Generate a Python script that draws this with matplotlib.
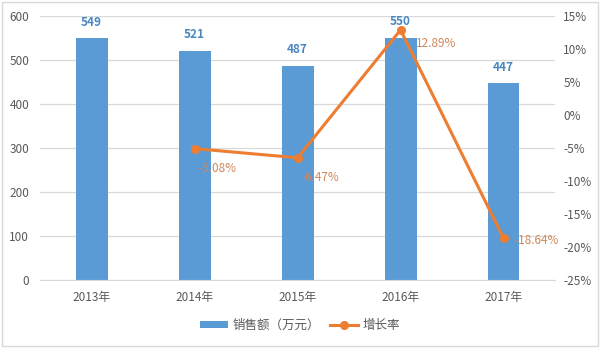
import numpy as np
import matplotlib.pyplot as plt
from matplotlib.ticker import FuncFormatter, MultipleLocator

plt.rcParams['font.family'] = ['Noto Sans CJK SC', 'DejaVu Sans']

years = ['2013年', '2014年', '2015年', '2016年', '2017年']
sales = [549, 521, 487, 550, 447]
growth_years = ['2014年', '2015年', '2016年', '2017年']
growth = [-5.08, -6.47, 12.89, -18.64]

bar_color = '#5B9BD5'
line_color = '#ED7D31'
tick_color = '#595959'

fig = plt.figure(figsize=(6, 3.48), dpi=100)
ax = fig.add_axes([0.067, 0.195, 0.858, 0.759])
ax2 = ax.twinx()

x = np.arange(len(years))
bars = ax.bar(x, sales, width=0.31, color=bar_color, zorder=2, label='销售额（万元）')
for xi, v in zip(x, sales):
    ax.annotate(str(v), (xi, v), xytext=(0, 7), textcoords='offset points',
                ha='center', va='bottom', fontsize=8.5, fontweight='bold',
                color='#4A86C0')

ax.set_xlim(-0.5, len(years) - 0.5)
ax.set_ylim(0, 600)
ax.yaxis.set_major_locator(MultipleLocator(100))
ax.grid(axis='y', color='#D9D9D9', linewidth=0.9, zorder=0)
ax.set_xticks(x)
ax.set_xticklabels(years)

gx = [years.index(y) for y in growth_years]
ax2.plot(gx, growth, color=line_color, linewidth=2.2, marker='o', markersize=5.5,
         zorder=3, label='增长率')
# label offsets (points) for each growth value
offsets = [(3, -14), (3, -14), (11, -10), (8, -2)]
for xi, v, off in zip(gx, growth, offsets):
    ax2.annotate(f'{v:.2f}%', (xi, v), xytext=off, textcoords='offset points',
                 ha='left', va='center', fontsize=8.5, color='#D0875A')
ax2.set_ylim(-25, 15)
ax2.yaxis.set_major_locator(MultipleLocator(5))
ax2.yaxis.set_major_formatter(FuncFormatter(lambda v, p: f'{v:.0f}%'))

for a in (ax, ax2):
    for s in a.spines.values():
        s.set_visible(False)
    a.tick_params(length=0, colors=tick_color, labelsize=8.5)
ax.spines['bottom'].set_visible(True)
ax.spines['bottom'].set_color('#D9D9D9')
ax.tick_params(axis='x', pad=8)
ax.tick_params(axis='y', pad=8)
ax2.tick_params(axis='y', pad=6)

h1, l1 = ax.get_legend_handles_labels()
h2, l2 = ax2.get_legend_handles_labels()
fig.legend(h1 + h2, l1 + l2, loc='center', bbox_to_anchor=(0.5, 0.065), ncol=2,
           frameon=False, fontsize=9, labelcolor=tick_color,
           handlelength=2.2, handleheight=0.6, handletextpad=0.4, columnspacing=0.8)

fig.patches.append(plt.Rectangle((0.004, 0.006), 0.992, 0.988, transform=fig.transFigure,
                                 fill=False, edgecolor='#D9D9D9', linewidth=1))

fig.savefig('out.png', dpi=100)
